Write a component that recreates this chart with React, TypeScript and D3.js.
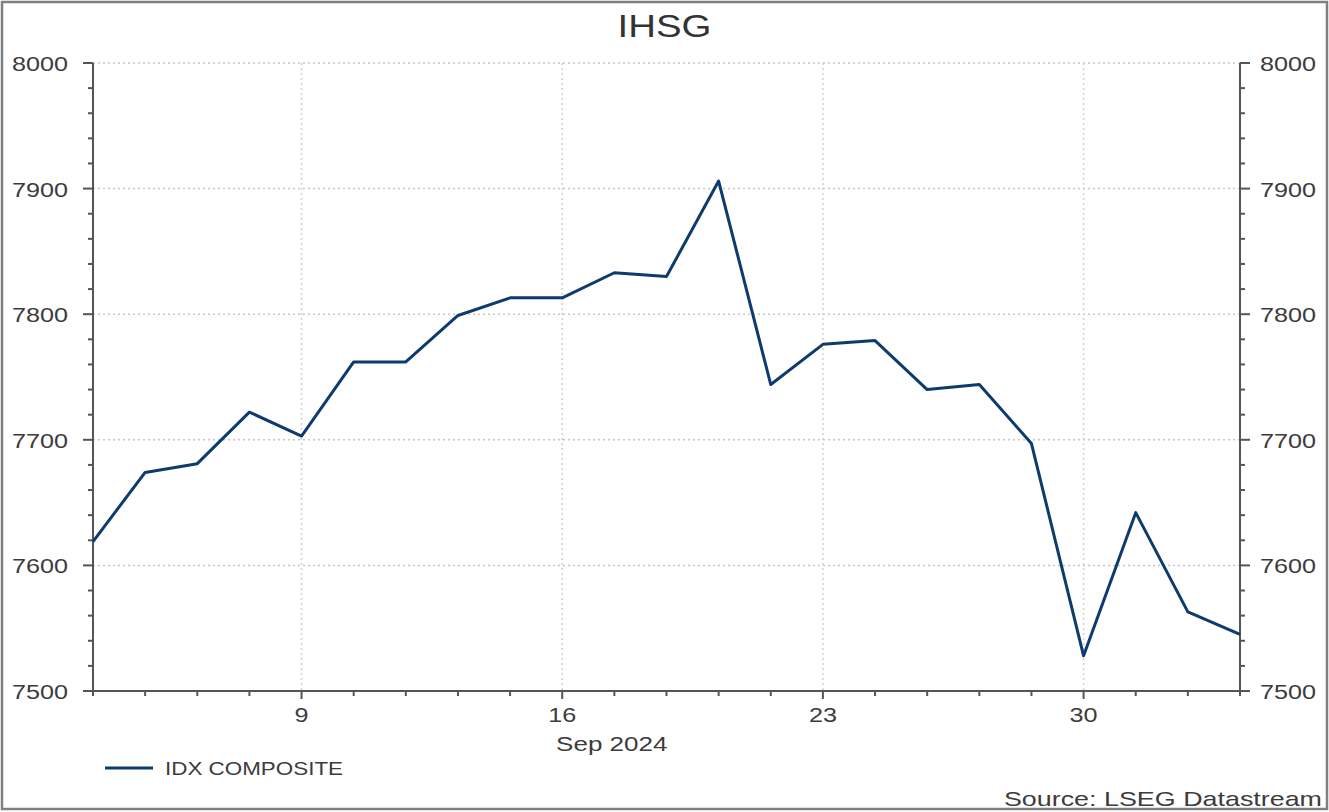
import React from 'react';
import * as d3 from 'd3';

// trading days shown on the x axis (business days only)
const dates = [
    '2024-09-03', '2024-09-04', '2024-09-05', '2024-09-06',
    '2024-09-09', '2024-09-10', '2024-09-11', '2024-09-12', '2024-09-13',
    '2024-09-16', '2024-09-17', '2024-09-18', '2024-09-19', '2024-09-20',
    '2024-09-23', '2024-09-24', '2024-09-25', '2024-09-26', '2024-09-27',
    '2024-09-30', '2024-10-01', '2024-10-02', '2024-10-03',
];
const idxComposite = [
    7619, 7674, 7681, 7722,
    7703, 7762, 7762, 7799, 7813,
    7813, 7833, 7830, 7906, 7744,
    7776, 7779, 7740, 7744, 7697,
    7528, 7642, 7563, 7545,
];
const yTicks = [7500, 7600, 7700, 7800, 7900, 8000];
const yMinorTicks = d3.range(7500, 8001, 20);
const title = 'IHSG';
const monthLabel = 'Sep 2024';
const seriesName = 'IDX COMPOSITE';
const source = 'Source: LSEG Datastream';

const W = 1329;
const H = 812;
const plot = { left: 93, right: 1240, top: 63, bottom: 691 };
const font = '"Liberation Sans", Arial, sans-serif';
const axisColor = '#555';
const textColor = '#3c3c3c';
const lineColor = '#0d3b6e';

const parse = d3.utcParse('%Y-%m-%d');

export default function App() {
    const days = dates.map(d => parse(d)!);
    const x = d3.scaleLinear([0, dates.length - 1], [plot.left, plot.right]);
    const y = d3.scaleLinear([7500, 8000], [plot.bottom, plot.top]);
    const mondays = days.map((d, i) => ({ d, i })).filter(o => o.d.getUTCDay() === 1);

    const line = d3.line<number>()
        .x((_v, i) => x(i))
        .y(v => y(v));

    const sx = (tx: number, ty: number, s: number) => `translate(${tx},${ty}) scale(${s},1)`;

    return (
        <svg width={W} height={H} style={{ position: 'absolute', left: 0, top: 0, background: '#fff' }}
            fontFamily={font}>
            <rect x={2} y={2} width={W - 4} height={H - 5} fill="#fff" stroke="#808080" strokeWidth={2.5} />

            <text transform={sx(W / 2, 37, 1.2)} textAnchor="middle" fontSize={32} fill="#333">{title}</text>

            {/* grid */}
            {yTicks.map(t => (
                <line key={'gy' + t} x1={plot.left} x2={plot.right} y1={y(t)} y2={y(t)}
                    stroke="#c6c6c6" strokeWidth={1.5} strokeDasharray="2,3" />
            ))}
            {mondays.map(o => (
                <line key={'gx' + o.i} x1={x(o.i)} x2={x(o.i)} y1={plot.top} y2={plot.bottom}
                    stroke="#d0d0d0" strokeWidth={1.5} strokeDasharray="2,3" />
            ))}

            {/* axes */}
            <g stroke={axisColor} strokeWidth={2}>
                <line x1={plot.left} x2={plot.left} y1={plot.top} y2={plot.bottom} />
                <line x1={plot.right} x2={plot.right} y1={plot.top} y2={plot.bottom} />
                <line x1={plot.left} x2={plot.right} y1={plot.bottom} y2={plot.bottom} />
                {yMinorTicks.map(t => {
                    const major = t % 100 === 0;
                    return (
                        <g key={'yt' + t}>
                            <line x1={plot.left - (major ? 10 : 5)} x2={plot.left} y1={y(t)} y2={y(t)} />
                            <line x1={plot.right} x2={plot.right + (major ? 10 : 5)} y1={y(t)} y2={y(t)} />
                        </g>
                    );
                })}
                {days.map((d, i) => (
                    <line key={'xt' + i} x1={x(i)} x2={x(i)} y1={plot.bottom}
                        y2={plot.bottom + (d.getUTCDay() === 1 ? 8 : 5)} />
                ))}
            </g>

            {yTicks.map(t => (
                <g key={'yl' + t} fontSize={21} fill={textColor}>
                    <text transform={sx(68, y(t) + 8, 1.2)} textAnchor="end">{t}</text>
                    <text transform={sx(1260, y(t) + 8, 1.2)} textAnchor="start">{t}</text>
                </g>
            ))}
            {mondays.map(o => (
                <text key={'xl' + o.i} transform={sx(x(o.i), 722, 1.2)} textAnchor="middle"
                    fontSize={21} fill={textColor}>{o.d.getUTCDate()}</text>
            ))}
            <text transform={sx(x(9.95), 751, 1.24)} textAnchor="middle" fontSize={21} fill={textColor}>{monthLabel}</text>

            <path d={line(idxComposite)!} fill="none" stroke={lineColor} strokeWidth={3} strokeLinejoin="round" />

            {/* legend */}
            <line x1={105} x2={153} y1={768} y2={768} stroke={lineColor} strokeWidth={3} />
            <text transform={sx(165, 775, 1.18)} fontSize={19} fill={textColor}>{seriesName}</text>

            <text transform={sx(1322, 806, 1.28)} textAnchor="end" fontSize={21} fill={textColor}>{source}</text>
        </svg>
    );
}
